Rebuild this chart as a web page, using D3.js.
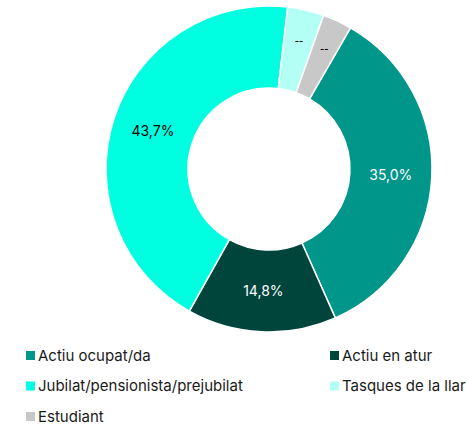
<!DOCTYPE html>
<html>
<head>
<meta charset="utf-8">
<script src="https://cdn.jsdelivr.net/npm/d3@7"></script>
<style>
  body { margin: 0; background: #fff; }
  svg { display: block; font-family: "Inter", "Liberation Sans", sans-serif; }
</style>
</head>
<body>
<div id="chart"></div>
<script>
const categories = ["Actiu ocupat/da", "Actiu en atur", "Jubilat/pensionista/prejubilat", "Tasques de la llar", "Estudiant"];
const values = [35.0, 14.8, 43.7, 3.6, 2.9];
const labels = ["35,0%", "14,8%", "43,7%", "--", "--"];
const colors = ["#00968a", "#00453c", "#00ffe1", "#b3fff5", "#c8c8c8"];
const labelColors = ["#fff", "#fff", "#000", "#000", "#000"];

const width = 468, height = 425;
const cx = 269, cy = 169, outer = 163, inner = 81;

const svg = d3.select("#chart").append("svg")
    .attr("width", width)
    .attr("height", height);

const pie = d3.pie()
    .sort(null)
    .value(d => d)
    .startAngle(30 * Math.PI / 180)
    .endAngle(390 * Math.PI / 180);

const arcs = pie(values);

const arc = d3.arc().innerRadius(inner).outerRadius(outer);
const labelArc = d3.arc().innerRadius(122).outerRadius(122);
const smallArc = d3.arc().innerRadius(132).outerRadius(132);

const g = svg.append("g").attr("transform", `translate(${cx},${cy})`);

g.selectAll("path")
    .data(arcs)
    .join("path")
    .attr("d", arc)
    .attr("fill", (d, i) => colors[i])
    .attr("stroke", "#fff")
    .attr("stroke-width", 1.5);

g.selectAll("text")
    .data(arcs)
    .join("text")
    .attr("transform", (d, i) => `translate(${(values[i] < 5 ? smallArc : labelArc).centroid(d)})`)
    .attr("text-anchor", "middle")
    .attr("dy", "0.35em")
    .attr("font-size", (d, i) => values[i] < 5 ? 9 : 14)
    .attr("font-weight", (d, i) => values[i] < 5 ? "bold" : "normal")
    .attr("fill", (d, i) => labelColors[i])
    .text((d, i) => labels[i]);

// legend, two columns
const legend = svg.append("g")
    .selectAll("g")
    .data(categories)
    .join("g")
    .attr("transform", (d, i) => `translate(${i % 2 ? 330 : 26},${351 + Math.floor(i / 2) * 30.5})`);

legend.append("rect")
    .attr("width", 9)
    .attr("height", 9)
    .attr("fill", (d, i) => colors[i]);

legend.append("text")
    .attr("x", 12)
    .attr("y", 4.5)
    .attr("dy", "0.35em")
    .attr("font-size", 15)
    .attr("fill", "#1a1a1a")
    .text(d => d);
</script>
</body>
</html>
